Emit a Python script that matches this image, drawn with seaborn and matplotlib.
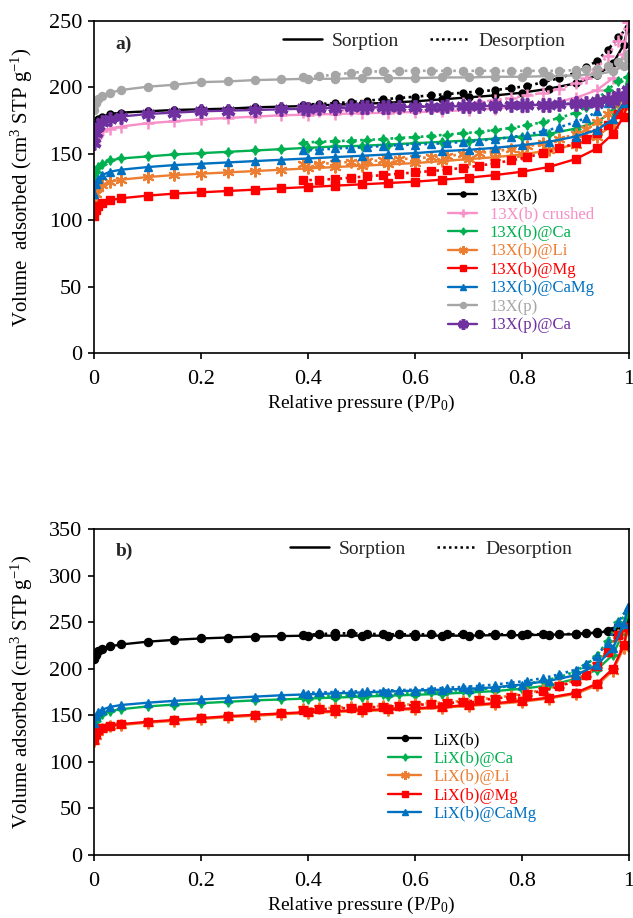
import matplotlib
matplotlib.use("Agg")
import matplotlib.pyplot as plt
from matplotlib.lines import Line2D
import seaborn as sns

sns.set_theme(style="ticks")
plt.rcParams["font.family"] = ["Liberation Serif", "DejaVu Serif"]
plt.rcParams["mathtext.fontset"] = "custom"
plt.rcParams["mathtext.rm"] = "Liberation Serif"
plt.rcParams["mathtext.it"] = "Liberation Serif:italic"

# Relative pressure grids (adsorption branch ascending, desorption branch descending)
P_ADS = [0.0005, 0.003, 0.008, 0.015, 0.03, 0.05, 0.1, 0.15, 0.2, 0.25, 0.3, 0.35, 0.4,
         0.45, 0.5, 0.55, 0.6, 0.65, 0.7, 0.75, 0.8, 0.85, 0.9, 0.94, 0.97, 0.99, 0.998]
P_DES = [0.998, 0.98, 0.96, 0.94, 0.92, 0.9, 0.87, 0.84, 0.81, 0.78, 0.75, 0.72, 0.69,
         0.66, 0.63, 0.6, 0.57, 0.54, 0.51, 0.48, 0.45, 0.42, 0.39]

# Panel a) 13X samples, volume adsorbed (cm3 STP/g)
x13b_ads = [166, 172, 176, 178, 180, 181, 182, 183, 183.5, 184, 185, 185.5, 186, 187, 187.5,
            188.5, 189.5, 191, 192.5, 194, 196, 199, 203, 209, 218, 232, 245]
x13b_des = [245, 238, 228, 220, 215, 211, 207, 204, 201, 199.5, 198, 197, 196, 195, 194, 193,
            192, 191, 190, 189, 188, 187.5, 187]
crushed_ads = [158, 162, 165, 167, 169, 170.5, 173, 174.5, 176, 177, 178, 179, 179.5, 180, 180.5,
               181, 181.5, 182, 183, 184, 185.5, 188, 192, 198, 207, 225, 249]
crushed_des = [249, 235, 224, 214, 207, 203, 199, 196, 194, 192, 190.5, 189, 188, 187, 186, 185,
               184.5, 184, 183.5, 183, 182.5, 182, 181.5]
ca_ads = [130, 136, 140, 142.5, 145, 146.5, 148, 149.5, 150.5, 151.5, 152.5, 153.5, 154.5, 155.5,
          156, 157, 158, 159, 160, 161.5, 163, 165, 169, 174, 182, 194, 208]
ca_des = [208, 205, 198, 191, 185, 181, 177, 174, 171.5, 169.5, 168, 166.5, 165.5, 164.5, 163.5,
          162.5, 162, 161, 160.5, 160, 159.5, 159, 158.5]
li_ads = [113, 120, 124, 126.5, 129, 130.5, 132.5, 134, 135, 136, 137, 138, 139, 140, 141, 142,
          143, 144.5, 146, 147.5, 149.5, 152.5, 157, 163, 172, 185, 195]
li_des = [195, 188, 180, 174, 169, 165, 161, 158, 155.5, 153.5, 152, 150.5, 149.5, 148.5, 147.5,
          146.5, 146, 145, 144.5, 144, 143, 142.5, 142]
mg_ads = [103, 108, 111, 113, 115, 116.5, 118.5, 120, 121, 122, 123, 124, 125, 126, 127, 128, 129,
          130.5, 132, 134, 136.5, 140, 146, 154, 165, 178, 188]
mg_des = [188, 180, 172, 166, 161, 158, 154, 150.5, 147.5, 145, 143, 141, 139.5, 138, 137, 136,
          135, 134, 133, 132, 131, 130.5, 130]
camg_ads = [120, 127, 131, 134, 136.5, 138, 140, 141.5, 142.5, 143.5, 144.5, 145.5, 146.5, 147.5,
            148.5, 149.5, 150.5, 152, 153, 154.5, 156.5, 159, 163, 168, 176, 188, 198]
camg_des = [198, 194, 188, 182, 177, 174, 170, 167, 164.5, 162.5, 161, 160, 159, 158, 157.5, 157,
            156.5, 156, 155, 154.5, 154, 153, 152.5]
x13p_ads = [183, 188, 191, 193.5, 196, 198, 200.5, 202, 204, 204.5, 205.5, 206, 206.5, 206.5, 207,
            207, 207, 207.5, 207.5, 208, 208, 208.5, 209, 210, 212, 216, 222]
x13p_des = [225, 219, 216, 214, 213.5, 213, 212.5, 212.5, 212.5, 212.5, 212.5, 212.5, 212.5, 212.5,
            212.5, 212.5, 212.5, 212, 212, 211, 209.5, 208.5, 208]
pca_ads = [158, 166, 171, 174, 176.5, 178, 180, 181, 182, 182.5, 183, 183.5, 184, 184.5, 185, 185,
           185.5, 185.5, 186, 186, 186.5, 187, 187.5, 188.5, 190, 193, 198]
pca_des = [198, 194, 191, 189.5, 188.5, 188, 187.5, 187, 187, 186.5, 186.5, 186, 186, 186, 185.5,
           185.5, 185.5, 185, 185, 185, 184.5, 184.5, 184.5]

# Panel b) LiX samples
lix_ads = [210, 215, 218.5, 221, 224, 226, 229, 231, 232.5, 233.5, 234.5, 235, 235.5, 235.5, 235.5,
           235.5, 235.5, 235.5, 235.5, 236, 236, 236.5, 237, 238.5, 241, 246, 252]
lix_des = [252, 246, 241, 239, 238, 237.5, 237, 237, 237, 237, 237, 237, 237, 237, 237, 237, 237,
           237, 237.5, 238, 238, 237, 236.5]
lica_ads = [137, 144, 148, 151, 154.5, 156.5, 159.5, 161.5, 163, 164.5, 166, 167, 168, 169, 170,
            171, 172, 173, 174.5, 176, 178.5, 182, 189, 199, 215, 240, 260]
lica_des = [260, 250, 230, 214, 204, 197, 191, 187, 184, 181.5, 179.5, 178, 177, 176, 175, 174,
            173, 172.5, 172, 171.5, 171, 170.5, 170]
lili_ads = [122, 128, 132.5, 135.5, 138, 139.5, 142, 144, 146, 148, 149.5, 151, 152.5, 153.5, 154.5,
            155.5, 156.5, 158, 160, 162, 164.5, 168, 173, 182, 198, 222, 243]
lili_des = [243, 236, 219, 204, 194, 188, 182, 177.5, 174, 171, 169, 167, 165.5, 164, 163, 162, 161,
            160, 159.5, 159, 158, 157.5, 157]
limg_ads = [124, 130, 134, 136.5, 139, 140.5, 143, 145, 147, 149, 150.5, 152, 153.5, 154.5, 155.5,
            156.5, 157.5, 159, 161, 163, 165.5, 169, 174, 184, 200, 225, 245]
limg_des = [245, 236, 218, 203, 193, 187, 181, 176.5, 173, 170, 168, 166, 164.5, 163, 162, 161, 160,
            159, 158.5, 158, 157, 156.5, 156]
licamg_ads = [142, 149, 153, 156, 159, 161, 163.5, 165.5, 167, 168.5, 170, 171.5, 172.5, 173.5, 174.5,
              175.5, 176.5, 177.5, 178.5, 180, 183, 187, 193, 204, 222, 248, 266]
licamg_des = [266, 250, 228, 214, 205, 199, 194, 190, 187, 185, 183, 181.5, 180.5, 179.5, 178.5,
              177.5, 177, 176.5, 176, 175.5, 175, 174.5, 174]

LABELS_A = ["13X(b)", "13X(b) crushed", "13X(b)@Ca", "13X(b)@Li", "13X(b)@Mg",
            "13X(b)@CaMg", "13X(p)", "13X(p)@Ca"]
LABELS_B = ["LiX(b)", "LiX(b)@Ca", "LiX(b)@Li", "LiX(b)@Mg", "LiX(b)@CaMg"]

BLACK, PINK, GREEN, ORANGE = "#000000", "#F78FC8", "#00B050", "#ED7D31"
RED, BLUE, GREY, PURPLE = "#FF0000", "#0070C0", "#A6A6A6", "#7030A0"
ASTER = (6, 2, 0)
STAR4 = (4, 1, 0)

series_a = [
    (x13b_ads, x13b_des, BLACK, "o", 5, 1.0),
    (crushed_ads, crushed_des, PINK, "+", 8, 1.8),
    (ca_ads, ca_des, GREEN, STAR4, 7, 1.0),
    (li_ads, li_des, ORANGE, ASTER, 8.5, 1.5),
    (mg_ads, mg_des, RED, "s", 5.2, 1.0),
    (camg_ads, camg_des, BLUE, "^", 6, 1.0),
    (x13p_ads, x13p_des, GREY, "o", 5.8, 1.0),
    (pca_ads, pca_des, PURPLE, ASTER, 10, 2.6),
]
series_b = [
    (lix_ads, lix_des, BLACK, "o", 5.8, 1.0),
    (lica_ads, lica_des, GREEN, STAR4, 7, 1.0),
    (lili_ads, lili_des, ORANGE, ASTER, 8.5, 1.5),
    (limg_ads, limg_des, RED, "s", 6.2, 1.0),
    (licamg_ads, licamg_des, BLUE, "^", 6.2, 1.0),
]

DOT = (0, (1, 1.3))

fig = plt.figure(figsize=(6.33, 9.18), dpi=100)
ax_a = fig.add_axes([94 / 633, 1 - 353 / 918, 535 / 633, 332 / 918])
ax_b = fig.add_axes([94 / 633, 1 - 855 / 918, 535 / 633, 326 / 918])


def draw_panel(ax, series, labels, ymax, ylabel, tag, leg_anchor, mode_anchor, handle_len):
    for ads, des, col, mk, ms, mew in series:
        sns.lineplot(x=P_ADS, y=ads, ax=ax, color=col, linewidth=1.7, marker=mk,
                     markersize=ms, markeredgewidth=mew, markeredgecolor=col,
                     markerfacecolor=col, sort=False, estimator=None)
        sns.lineplot(x=P_DES, y=des, ax=ax, color=col, linewidth=1.9, linestyle=DOT,
                     marker=mk, markersize=ms, markeredgewidth=mew, markeredgecolor=col,
                     markerfacecolor=col, sort=False, estimator=None)
    ax.set_xlim(0, 1)
    ax.set_ylim(0, ymax)
    ax.set_xticks([0, 0.2, 0.4, 0.6, 0.8, 1.0])
    ax.set_xticklabels(["0", "0.2", "0.4", "0.6", "0.8", "1"])
    ax.set_yticks(range(0, ymax + 1, 50))
    ax.tick_params(axis="x", direction="out", length=4.5, width=1.2, pad=8,
                   labelsize=16, colors="black", top=False)
    ax.tick_params(axis="y", direction="out", length=4.5, width=1.2, pad=4,
                   labelsize=16, colors="black", right=False)
    for sp in ax.spines.values():
        sp.set_visible(True)
        sp.set_color("black")
        sp.set_linewidth(1.2)
    ax.set_xlabel("Relative pressure (P/P$_0$)", fontsize=14, color="black", labelpad=2.5)
    ax.set_ylabel(ylabel, fontsize=15, color="black")
    ax.yaxis.set_label_coords(-0.11, 0.5)
    ax.text(0.04, 0.93, tag, transform=ax.transAxes, fontsize=14, fontweight="bold",
            va="center", ha="left")

    handles = [Line2D([], [], color=col, linewidth=1.7, marker=mk, markersize=ms,
                      markeredgewidth=mew, markeredgecolor=col, markerfacecolor=col)
               for _, _, col, mk, ms, mew in series]
    leg = ax.legend(handles, labels, loc="upper left", bbox_to_anchor=leg_anchor,
                    frameon=False, fontsize=12, handlelength=handle_len,
                    handletextpad=0.75, labelspacing=0.15, borderpad=0, borderaxespad=0,
                    markerscale=0.75)
    for txt, (_, _, col, *_r) in zip(leg.get_texts(), series):
        txt.set_color(col)
    ax.add_artist(leg)

    mode_handles = [Line2D([], [], color="black", linewidth=1.8),
                    Line2D([], [], color="black", linewidth=1.8, linestyle=DOT)]
    ax.legend(mode_handles, ["Sorption", "Desorption"], loc="upper left",
              bbox_to_anchor=mode_anchor, ncol=2, frameon=False, fontsize=14,
              handlelength=2.0, handletextpad=0.5, columnspacing=1.6,
              borderpad=0, borderaxespad=0)


draw_panel(ax_a, series_a, LABELS_A, 250,
           "Volume  adsorbed (cm$^3$ STP g$^{-1}$)", "a)",
           (0.662, 0.497), (0.353, 0.965), 1.75)
draw_panel(ax_b, series_b, LABELS_B, 350,
           "Volume adsorbed (cm$^3$ STP g$^{-1}$)", "b)",
           (0.5495, 0.377), (0.366, 0.965), 2.0)

fig.savefig("out.png", dpi=100, facecolor="white")
